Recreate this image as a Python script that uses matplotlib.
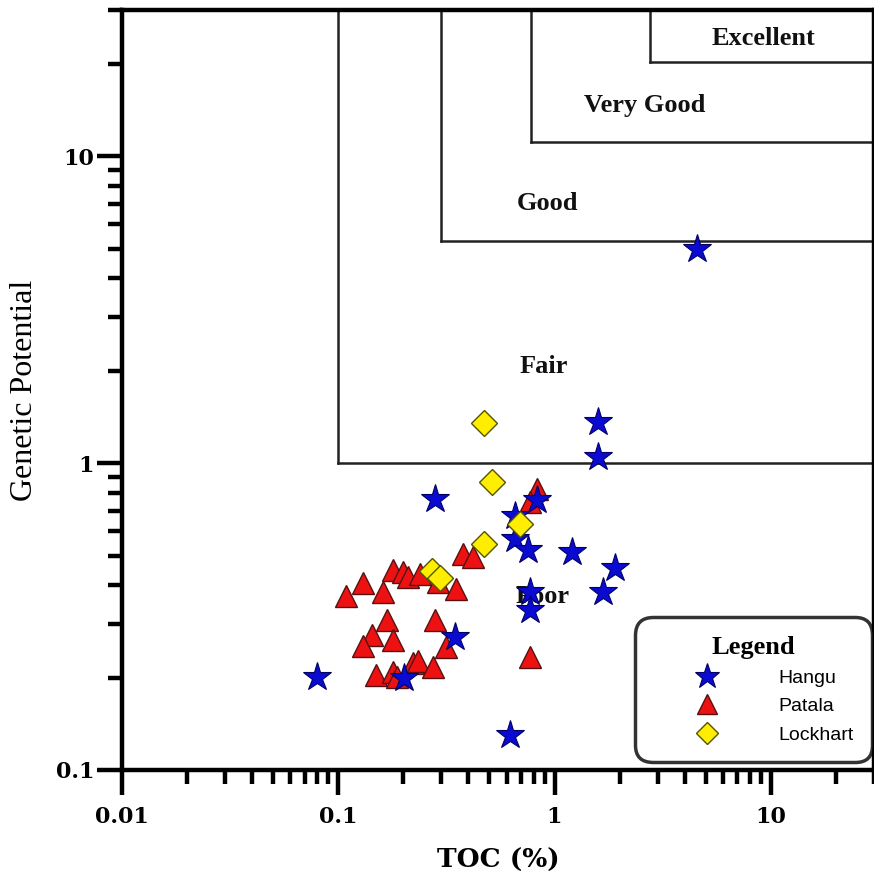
import matplotlib
matplotlib.use("Agg")
import matplotlib.pyplot as plt
from matplotlib.ticker import LogLocator, NullFormatter, FixedLocator, FixedFormatter

# ---- data ----
hangu_toc = [4.58, 1.58, 1.59, 0.279, 0.826, 0.653, 0.653, 0.75, 1.21, 1.91, 1.67, 0.767, 0.767, 0.345, 0.0797, 0.201, 0.62]
hangu_gp = [5.0, 1.36, 1.05, 0.763, 0.76, 0.671, 0.565, 0.523, 0.512, 0.457, 0.379, 0.379, 0.333, 0.272, 0.201, 0.20, 0.130]

patala_toc = [0.109, 0.130, 0.161, 0.180, 0.199, 0.209, 0.238, 0.288, 0.352, 0.168, 0.279, 0.143, 0.130, 0.180,
              0.314, 0.149, 0.180, 0.186, 0.221, 0.233, 0.273, 0.376, 0.418, 0.826, 0.768, 0.768]
patala_gp = [0.368, 0.408, 0.379, 0.450, 0.441, 0.427, 0.434, 0.411, 0.388, 0.309, 0.309, 0.276, 0.254, 0.266,
             0.252, 0.204, 0.209, 0.201, 0.224, 0.226, 0.216, 0.504, 0.493, 0.822, 0.746, 0.234]

lockhart_toc = [0.470, 0.512, 0.689, 0.472, 0.270, 0.294]
lockhart_gp = [1.35, 0.867, 0.632, 0.544, 0.444, 0.424]

# classification boxes: (left TOC, bottom GP)
class_names = ["Fair", "Good", "Very Good", "Excellent"]
class_left = [0.1, 0.3, 0.78, 2.75]
class_bottom = [1.0, 5.3, 11.1, 20.3]
label_names = ["Excellent", "Very Good", "Good", "Fair", "Poor"]
label_x = [9.2, 2.6, 0.93, 0.89, 0.88]
label_y = [24.3, 14.6, 7.0, 2.06, 0.367]

xticks = [0.01, 0.1, 1, 10]
xticklabels = ["0.01", "0.1", "1", "10"]
yticks = [0.1, 1, 10]
yticklabels = ["0.1", "1", "10"]

serif = ["Liberation Serif", "DejaVu Serif"]
dserif = ["DejaVu Serif"]

fig = plt.figure(figsize=(8.74, 8.73), dpi=100)
ax = fig.add_axes([122 / 874, 103 / 873, 752 / 874, 760 / 873])
ax.set_xscale("log")
ax.set_yscale("log")
xmin, xmax, ymin, ymax = 0.01, 30, 0.1, 30
ax.set_xlim(xmin, xmax)
ax.set_ylim(ymin, ymax)

# classification lines
for lx, by in zip(class_left, class_bottom):
    ax.plot([lx, lx], [by, ymax], color="#222222", lw=1.8, zorder=1)
    ax.plot([lx, xmax], [by, by], color="#222222", lw=1.8, zorder=1)

for name, x, y in zip(label_names, label_x, label_y):
    ax.text(x, y, name, ha="center", va="center", fontsize=19, fontweight="bold",
            family=serif, color="#111111", zorder=2)

ax.plot(patala_toc, patala_gp, linestyle="none", marker="^", ms=16, mfc="#ee1111",
        mec="#551111", mew=1.0, label="Patala", zorder=3)
ax.plot(hangu_toc, hangu_gp, linestyle="none", marker="*", ms=21, mfc="#0a0ad0",
        mec="#000066", mew=0.8, label="Hangu", zorder=3)
ax.plot(lockhart_toc, lockhart_gp, linestyle="none", marker="D", ms=13, mfc="#ffee00",
        mec="#555500", mew=1.0, label="Lockhart", zorder=4)

# axes styling
for s in ["left", "bottom", "top", "right"]:
    ax.spines[s].set_linewidth(3.2)
ax.xaxis.set_major_locator(FixedLocator(xticks))
ax.xaxis.set_major_formatter(FixedFormatter(xticklabels))
ax.yaxis.set_major_locator(FixedLocator(yticks))
ax.yaxis.set_major_formatter(FixedFormatter(yticklabels))
ax.xaxis.set_minor_locator(LogLocator(base=10, subs=range(2, 10)))
ax.yaxis.set_minor_locator(LogLocator(base=10, subs=range(2, 10)))
ax.xaxis.set_minor_formatter(NullFormatter())
ax.yaxis.set_minor_formatter(NullFormatter())
ax.tick_params(which="major", direction="out", length=18, width=3.2)
ax.tick_params(which="minor", direction="out", length=10, width=3.2)
ax.tick_params(axis="x", which="major", pad=8)
ax.tick_params(axis="y", which="major", pad=2)
for lab in ax.get_xticklabels() + ax.get_yticklabels():
    lab.set_fontfamily(dserif)
    lab.set_fontweight("bold")
    lab.set_fontsize(16)

ax.set_xlabel("TOC (%)", fontsize=19, fontweight="bold", family=dserif, labelpad=14)
ax.set_ylabel("Genetic Potential", fontsize=23, family=serif, labelpad=12)

handles, labels = ax.get_legend_handles_labels()
order = [labels.index("Hangu"), labels.index("Patala"), labels.index("Lockhart")]
leg = ax.legend([handles[i] for i in order], [labels[i] for i in order],
                loc="lower right", bbox_to_anchor=((872 - 122) / 752, (770 - 762) / 760),
                frameon=True, fancybox=True,
                title="Legend", title_fontproperties={"family": serif, "weight": "bold", "size": 19},
                prop={"family": ["Liberation Sans", "DejaVu Sans"], "size": 14},
                markerscale=0.9, handletextpad=0.9, borderpad=0.95, labelspacing=0.55,
                handlelength=5.5, borderaxespad=0.0)
leg.get_frame().set_linewidth(2.5)
leg.get_frame().set_edgecolor("black")
leg.get_frame().set_boxstyle("round,pad=0.0,rounding_size=0.9")
leg.set_zorder(10)

fig.savefig("out.png", dpi=100)
